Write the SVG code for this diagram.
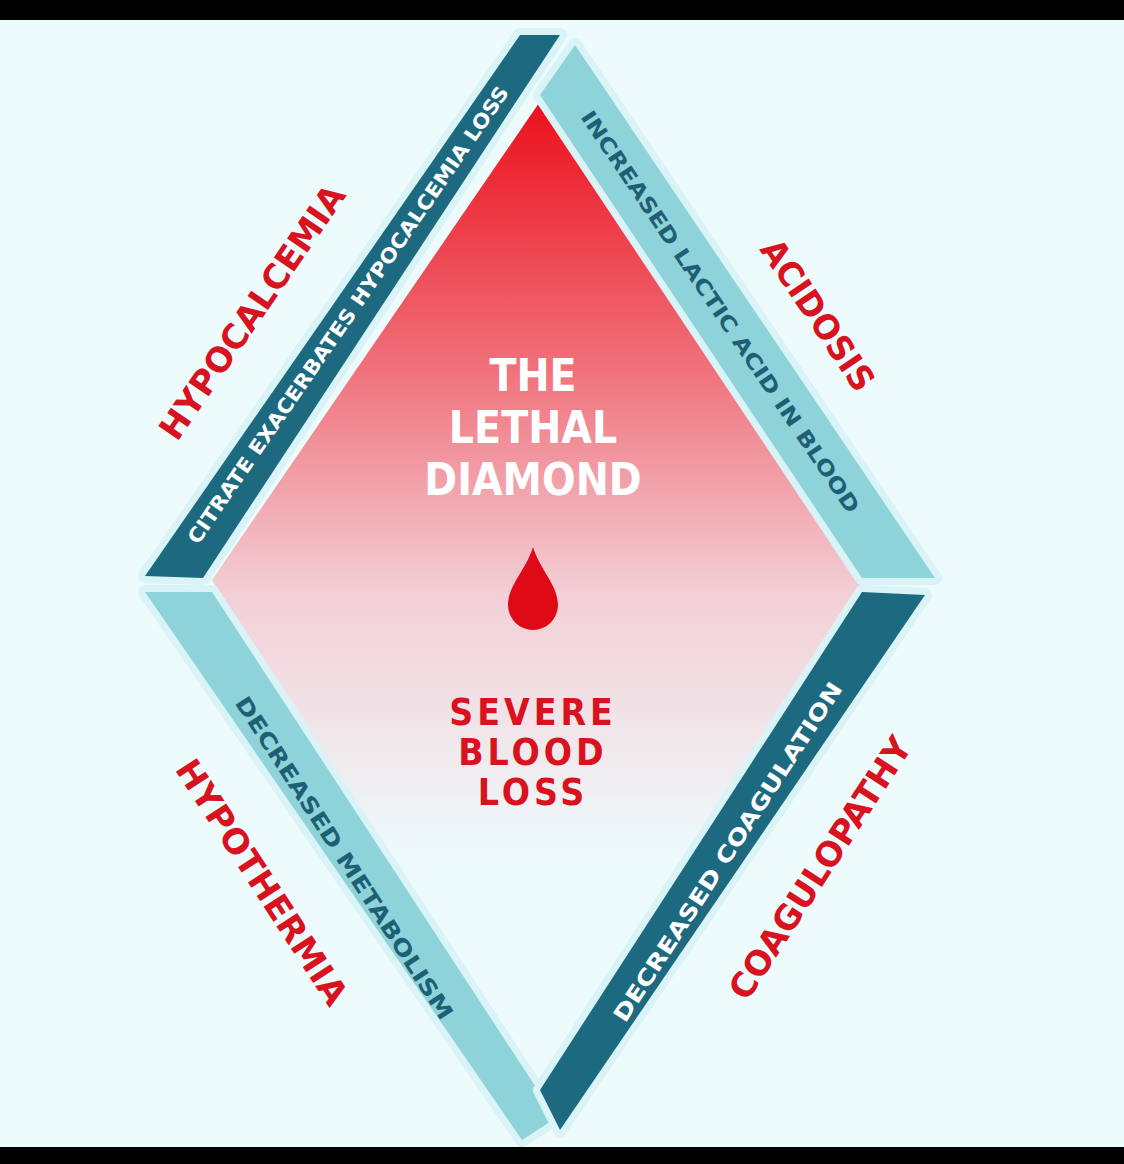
<svg xmlns="http://www.w3.org/2000/svg" width="1124" height="1164" viewBox="0 0 1124 1164">
<style>
.t{font-family:"DejaVu Sans Condensed","Liberation Sans",sans-serif;font-weight:bold;text-anchor:middle;dominant-baseline:central}
.red{fill:#d8121f}
.dark{fill:#1d6a80}
.light{fill:#8fd3da}
.glow{fill:none;stroke:#d9f3f6;stroke-width:14;stroke-linejoin:round}
</style>
<defs>
<linearGradient id="g" x1="0" y1="100" x2="0" y2="860" gradientUnits="userSpaceOnUse">
<stop offset="0" stop-color="#ec0f1c"/>
<stop offset="0.35" stop-color="#f0707a"/>
<stop offset="0.65" stop-color="#f3cfd6"/>
<stop offset="1" stop-color="#eefbfc"/>
</linearGradient>
</defs>
<rect width="1124" height="1164" fill="#eefbfc"/>
<rect width="1124" height="20" fill="#000"/>
<rect y="1147" width="1124" height="17" fill="#000"/>
<g id="center">
<polygon points="541,100 866,580 541,1100 212,580" fill="url(#g)"/>
<text class="t" x="533" y="375" font-size="44" font-weight="normal" fill="#fff" style="font-weight:600">THE</text>
<text class="t" x="533" y="427" font-size="44" fill="#fff" style="font-weight:600">LETHAL</text>
<text class="t" x="533" y="479" font-size="44" fill="#fff" style="font-weight:600">DIAMOND</text>
<path d="M533,547 C540,570 558,585 558,605 A25,25 0 0 1 508,605 C508,585 526,570 533,547 Z" fill="#e00a17"/>
<text class="t red" x="533" y="712" font-size="37" letter-spacing="4">SEVERE</text>
<text class="t red" x="533" y="752" font-size="37" letter-spacing="4">BLOOD</text>
<text class="t red" x="533" y="792" font-size="37" letter-spacing="4">LOSS</text>
</g>
<g id="hypocalcemia">
<polygon class="glow" points="145,576 520,35 560,35 203,578"/>
<polygon class="dark" points="145,576 520,35 560,35 203,578"/>
<text class="t" transform="translate(348,315) rotate(-55.5)" font-size="20" fill="#fff" textLength="550" lengthAdjust="spacingAndGlyphs">CITRATE EXACERBATES HYPOCALCEMIA LOSS</text>
<text class="t red" transform="translate(252,312) rotate(-55.5)" font-size="34" textLength="300" lengthAdjust="spacingAndGlyphs">HYPOCALCEMIA</text>
</g>
<g id="acidosis">
<polygon class="glow" points="540,95 575,45 935,578 862,578"/>
<polygon class="light" points="540,95 575,45 935,578 862,578"/>
<text class="t" transform="translate(720,312) rotate(56)" font-size="21" fill="#1d5f74" textLength="480" lengthAdjust="spacingAndGlyphs">INCREASED LACTIC ACID IN BLOOD</text>
<text class="t red" transform="translate(818,315) rotate(56)" font-size="34" textLength="175" lengthAdjust="spacingAndGlyphs">ACIDOSIS</text>
</g>
<g id="hypothermia">
<polygon class="glow" points="145,592 212,592 556,1118 522,1140"/>
<polygon class="light" points="145,592 212,592 556,1118 522,1140"/>
<text class="t" transform="translate(344,858) rotate(57)" font-size="22" fill="#1d5f74" textLength="380" lengthAdjust="spacingAndGlyphs">DECREASED METABOLISM</text>
<text class="t red" transform="translate(262,882) rotate(57)" font-size="34" textLength="285" lengthAdjust="spacingAndGlyphs">HYPOTHERMIA</text>
</g>
<g id="coagulopathy">
<polygon class="glow" points="862,592 925,595 560,1130 540,1090"/>
<polygon class="dark" points="862,592 925,595 560,1130 540,1090"/>
<text class="t" transform="translate(728,852) rotate(-57)" font-size="22" fill="#fff" textLength="400" lengthAdjust="spacingAndGlyphs">DECREASED COAGULATION</text>
<text class="t red" transform="translate(820,868) rotate(-57)" font-size="34" textLength="305" lengthAdjust="spacingAndGlyphs">COAGULOPATHY</text>
</g>
<g id="connectors"/>
</svg>
